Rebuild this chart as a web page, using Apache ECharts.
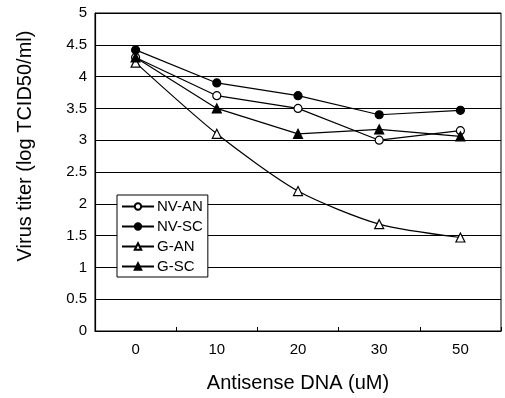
<!DOCTYPE html>
<html>
<head>
<meta charset="utf-8">
<script src="https://cdn.jsdelivr.net/npm/echarts@6/dist/echarts.min.js"></script>
<style>
  html, body { margin: 0; padding: 0; background: #fff; }
  #chart { width: 505px; height: 398px; }
</style>
</head>
<body>
<div id="chart"></div>
<script>
// data
const doses = ["0", "10", "20", "30", "50"]
const nvAn = [4.3, 3.7, 3.5, 3.0, 3.15]
const nvSc = [4.42, 3.9, 3.7, 3.4, 3.47]
const gAn = [4.22, 3.1, 2.2, 1.68, 1.47]
const gSc = [4.3, 3.5, 3.1, 3.17, 3.06]

const font = "Liberation Sans, Arial, sans-serif"
const black = "#000"

const chart = echarts.init(document.getElementById("chart"))

function lineSeries(name, data, symbol, filled, smooth) {
  return {
    name: name,
    type: "line",
    data: data,
    symbol: symbol,
    symbolSize: symbol === "triangle" ? 9 : 8,
    smooth: smooth ? 0.25 : false,
    showAllSymbol: true,
    lineStyle: { color: black, width: 1.2 },
    itemStyle: {
      color: filled ? black : "#fff",
      borderColor: black,
      borderWidth: 1.2
    },
    emphasis: { disabled: true },
    z: 3
  }
}

const option = {
  animation: false,
  backgroundColor: "#fff",
  textStyle: { fontFamily: font, color: black },
  grid: {
    left: 95,
    right: 4,
    top: 13,
    bottom: 65,
    show: true,
    borderColor: black,
    borderWidth: 1
  },
  legend: {
    orient: "vertical",
    left: 117,
    top: 195,
    padding: [4, 5, 3, 4],
    itemGap: 5,
    itemWidth: 32,
    itemHeight: 8,
    backgroundColor: "#fff",
    borderColor: black,
    borderWidth: 1,
    borderRadius: 0,
    textStyle: { fontFamily: font, fontSize: 15, color: black, padding: [0, 0, 0, -2] },
    data: ["NV-AN", "NV-SC", "G-AN", "G-SC"]
  },
  xAxis: {
    type: "category",
    data: doses,
    boundaryGap: true,
    name: "Antisense DNA (uM)",
    nameLocation: "middle",
    nameGap: 42,
    nameTextStyle: { fontFamily: font, fontSize: 20, color: black },
    axisLine: { lineStyle: { color: black, width: 1.2 } },
    axisTick: { show: true, inside: true, length: 4, lineStyle: { color: black } },
    axisLabel: { fontFamily: font, fontSize: 15, color: black, margin: 11 },
    splitLine: { show: false }
  },
  yAxis: {
    type: "value",
    min: 0,
    max: 5,
    interval: 0.5,
    name: "Virus titer (log TCID50/ml)",
    nameLocation: "middle",
    nameGap: 60,
    nameTextStyle: { fontFamily: font, fontSize: 20, color: black, padding: [0, 0, 0, 52] },
    axisLine: { show: true, lineStyle: { color: black, width: 1.2 } },
    axisTick: { show: false },
    axisLabel: { fontFamily: font, fontSize: 15, color: black, margin: 8 },
    splitLine: { show: true, lineStyle: { color: black, width: 1 } }
  },
  series: [
    lineSeries("NV-AN", nvAn, "circle", false, false),
    lineSeries("NV-SC", nvSc, "circle", true, false),
    lineSeries("G-AN", gAn, "triangle", false, true),
    lineSeries("G-SC", gSc, "triangle", true, false)
  ]
}

chart.setOption(option)
</script>
</body>
</html>
